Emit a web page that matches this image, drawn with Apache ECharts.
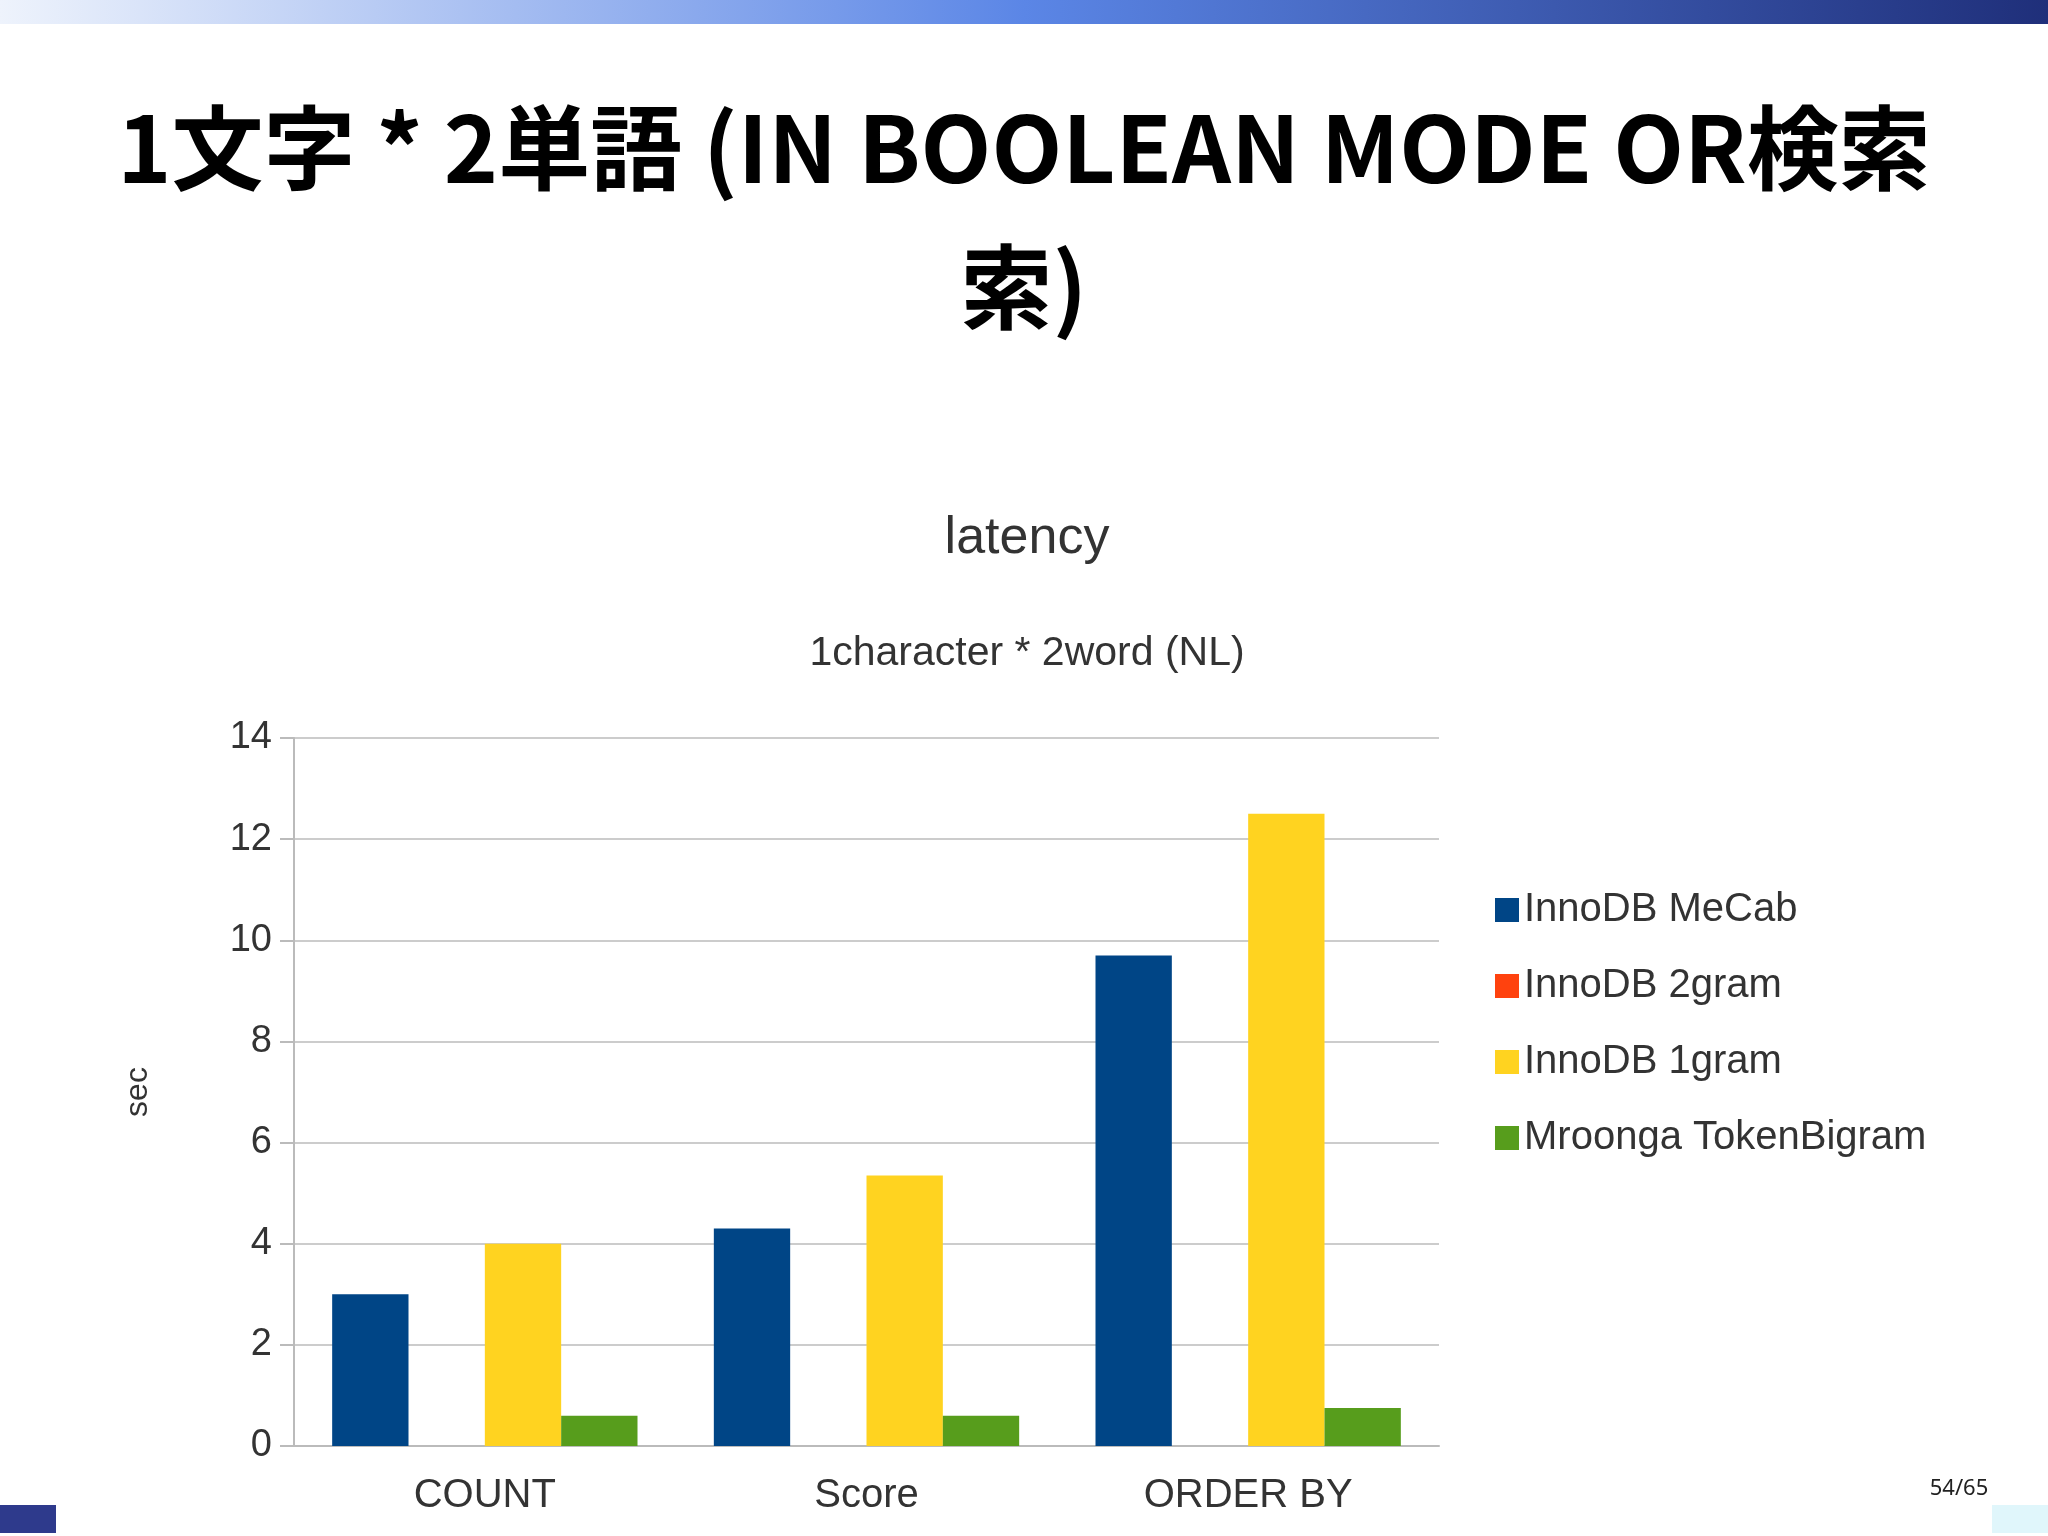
<!DOCTYPE html>
<html><head><meta charset="utf-8">
<script src="https://cdn.jsdelivr.net/npm/echarts@6/dist/echarts.min.js"></script>
<style>html,body{margin:0;padding:0;background:#fff}#c{width:2048px;height:1536px}</style>
</head><body><div id="c"></div>
<script>
const categories = ['COUNT', 'Score', 'ORDER BY'];
const mecab = [3.0, 4.3, 9.7];
const gram2 = [null, null, null];
const gram1 = [4.0, 5.35, 12.5];
const mroonga = [0.6, 0.6, 0.75];
const yTicks = [0, 2, 4, 6, 8, 10, 12, 14];

const chart = echarts.init(document.getElementById('c'));
const lab = {fontFamily:'Liberation Sans', color:'#333'};
chart.setOption({
  animation:false,
  title:[
    {text:'latency', left:1022, top:508, textAlign:'center', textStyle:{...lab, fontSize:52, fontWeight:'normal'}},
    {text:'1character * 2word (NL)', left:1022, top:628, textAlign:'center', textStyle:{...lab, fontSize:41, fontWeight:'normal'}}
  ],
  legend:{orient:'vertical', left:1490, top:885, itemWidth:24, itemHeight:24, itemGap:36,
    icon:'rect', textStyle:{...lab, fontSize:40}},
  grid:{left:294, right:2048-1439, top:738, bottom:1536-1446},
  xAxis:{type:'category', data:categories,
    axisLine:{lineStyle:{color:'#bbb', width:2}}, axisTick:{length:18, lineStyle:{color:'#bbb', width:2}},
    axisLabel:{...lab, fontSize:40, margin:30}},
  yAxis:{type:'value', min:0, max:14, interval:2, name:'sec', nameLocation:'middle', nameGap:140, nameRotate:90,
    nameTextStyle:{...lab, fontSize:32},
    axisLine:{show:true, lineStyle:{color:'#bbb', width:2}}, axisTick:{show:true, length:14, inside:false, lineStyle:{color:'#bbb', width:2}},
    axisLabel:{...lab, fontSize:38, margin:22, formatter:v=>yTicks.includes(v)?String(v):''},
    splitLine:{lineStyle:{color:'#ccc', width:2}}},
  series:[
    {name:'InnoDB MeCab', type:'bar', data:mecab, itemStyle:{color:'#004586'}, barGap:'0%', barCategoryGap:'20%'},
    {name:'InnoDB 2gram', type:'bar', data:gram2, itemStyle:{color:'#ff420e'}},
    {name:'InnoDB 1gram', type:'bar', data:gram1, itemStyle:{color:'#ffd320'}},
    {name:'Mroonga TokenBigram', type:'bar', data:mroonga, itemStyle:{color:'#579d1c'}}
  ],
  graphic:[
    {type:'rect', shape:{x:0,y:0,width:2048,height:24}, style:{fill:new echarts.graphic.LinearGradient(0,0,1,0,[{offset:0,color:'#eef3fc'},{offset:0.5,color:'#5b86e6'},{offset:1,color:'#1f2f7a'}])}},
    {type:'text', x:1024, y:148, style:{text:'1文字 * 2単語 (IN BOOLEAN MODE OR検索', fontFamily:'Noto Sans CJK JP', fontWeight:'bold', fontSize:92, fill:'#000', align:'center', verticalAlign:'middle'}},
    {type:'text', x:1024, y:287, style:{text:'索)', fontFamily:'Noto Sans CJK JP', fontWeight:'bold', fontSize:92, fill:'#000', align:'center', verticalAlign:'middle'}},
    {type:'text', x:1959, y:1489, style:{text:'54/65', fontFamily:'Noto Sans', fontSize:22, fill:'#222', align:'center', verticalAlign:'middle'}},
    {type:'rect', shape:{x:0,y:1505,width:56,height:28}, style:{fill:'#2e3a8c'}},
    {type:'rect', shape:{x:1992,y:1505,width:56,height:28}, style:{fill:'#e0f6fb'}}
  ]
});
</script></body></html>
